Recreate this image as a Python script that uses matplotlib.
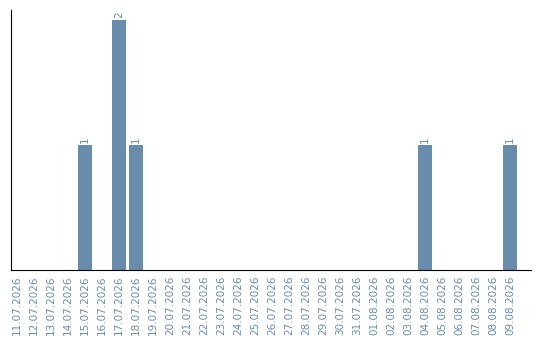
import matplotlib
matplotlib.use("Agg")
import matplotlib.pyplot as plt

dates = ["11.07.2026", "12.07.2026", "13.07.2026", "14.07.2026", "15.07.2026",
         "16.07.2026", "17.07.2026", "18.07.2026", "19.07.2026", "20.07.2026",
         "21.07.2026", "22.07.2026", "23.07.2026", "24.07.2026", "25.07.2026",
         "26.07.2026", "27.07.2026", "28.07.2026", "29.07.2026", "30.07.2026",
         "31.07.2026", "01.08.2026", "02.08.2026", "03.08.2026", "04.08.2026",
         "05.08.2026", "06.08.2026", "07.08.2026", "08.08.2026", "09.08.2026"]
counts = [0, 0, 0, 0, 1, 0, 2, 1, 0, 0,
          0, 0, 0, 0, 0, 0, 0, 0, 0, 0,
          0, 0, 0, 0, 1, 0, 0, 0, 0, 1]

bar_color = "#6a8cac"
text_color = "#6a8cac"

fig = plt.figure(figsize=(5.4, 3.4), dpi=100)
ax = fig.add_axes([10.5 / 540, 70 / 340, (531 - 10.5) / 540, 260 / 340])

x = list(range(len(dates)))
ax.bar(x, counts, width=14 / 17, color=bar_color)

for xi, v in zip(x, counts):
    if v > 0:
        ax.text(xi, v + 0.02, str(v), rotation=90, ha="center", va="bottom",
                fontsize=7.5, color=text_color)

ax.set_xlim(-0.38, 30.24)
ax.set_ylim(0, 2.08)
ax.set_xticks(x)
ax.set_xticklabels(dates, rotation=90, fontsize=7.5, color=text_color)
ax.tick_params(axis="x", length=0, pad=4)
ax.set_yticks([])
ax.spines["top"].set_visible(False)
ax.spines["right"].set_visible(False)
ax.spines["left"].set_color("black")
ax.spines["bottom"].set_color("black")

fig.savefig("out.png", dpi=100)
